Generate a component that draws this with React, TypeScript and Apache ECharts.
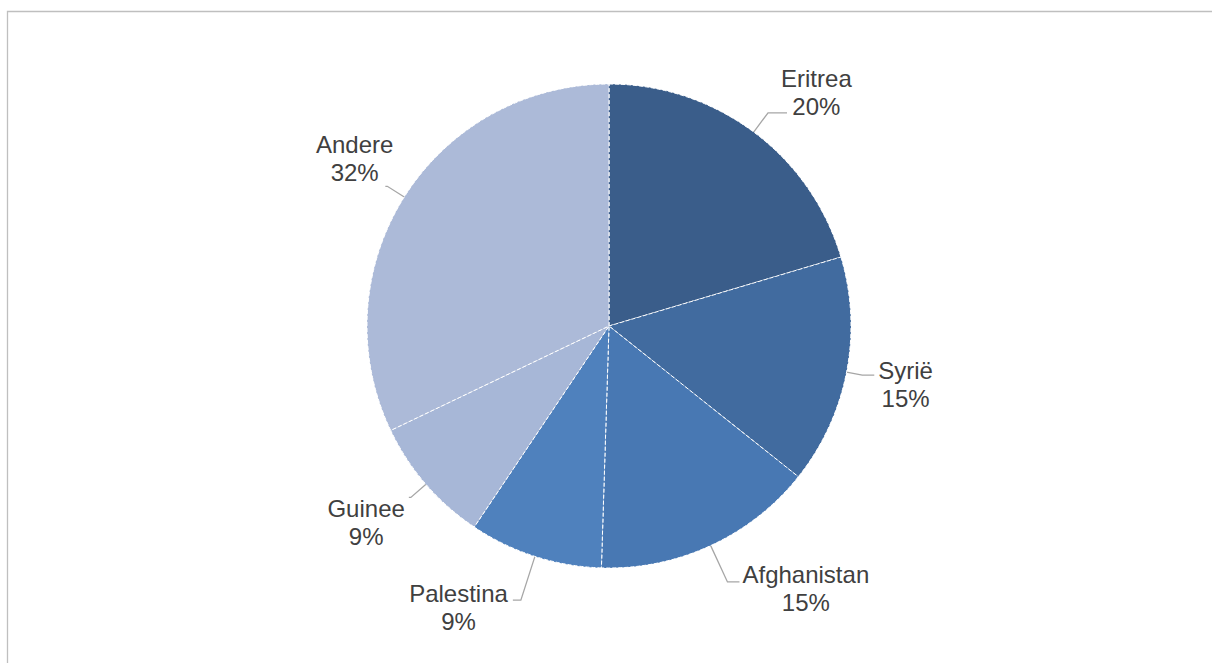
import React, { useEffect, useRef } from "react";
import * as echarts from "echarts";

// Data
const categories = ["Eritrea", "Syrië", "Afghanistan", "Palestina", "Guinee", "Andere"];
const values = [20.4, 15.3, 14.8, 8.9, 8.5, 32.1];

// Styles (kept separate from data)
const colors = ["#3a5d8a", "#416b9f", "#4878b3", "#4f81bd", "#a7b7d7", "#acbad8"];
const lineLen1 = [24, 16, 40, 46, 20, 20];
const lineLen2 = [19, 12, 12, 8, 2, 2];
const labelPad = [
  [0, 0, 40, 0],
  [18, 0, 0, 0],
  [14, 0, 0, 0],
  [14, 0, 0, 0],
  [50, 0, 0, 0],
  [0, 0, 56, 0],
];
const labelDist = [-6, 4, 3, 5, 4, -8];

export default function App() {
  const ref = useRef<HTMLDivElement>(null);

  useEffect(() => {
    if (!ref.current) return;
    const chart = echarts.init(ref.current, undefined, { renderer: "svg" });

    const data = categories.map((name, i) => ({
      name,
      value: values[i],
      itemStyle: { color: colors[i] },
      label: { padding: labelPad[i], distanceToLabelLine: labelDist[i] },
      labelLine: { length: lineLen1[i], length2: lineLen2[i] },
    }));

    chart.setOption({
      animation: false,
      backgroundColor: "#ffffff",
      graphic: [
        {
          type: "rect",
          shape: { x: 7.5, y: 11.5, width: 1220, height: 670 },
          style: { fill: "none", stroke: "#bfbfbf", lineWidth: 1.3 },
          silent: true,
        },
      ],
      series: [
        {
          type: "pie",
          center: [609, 326],
          radius: 242,
          startAngle: 90,
          clockwise: true,
          avoidLabelOverlap: false,
          data,
          itemStyle: {
            borderColor: "#ffffff",
            borderWidth: 1,
            borderType: "dashed",
          },
          label: {
            show: true,
            position: "outside",
            color: "#404040",
            fontFamily: "Liberation Sans, Arial, sans-serif",
            fontSize: 24,
            lineHeight: 28,
            formatter: (p: any) => `{n|${p.name}}\n{n|${Math.round(p.percent)}%}`,
            rich: {
              n: {
                align: "center",
                color: "#404040",
                fontFamily: "Liberation Sans, Arial, sans-serif",
                fontSize: 24,
                lineHeight: 28,
              },
            },
          },
          labelLine: {
            show: true,
            smooth: false,
            lineStyle: { color: "#a6a6a6", width: 1.3 },
          },
          emphasis: { disabled: true },
        },
      ],
    });

    return () => chart.dispose();
  }, []);

  return (
    <div
      ref={ref}
      style={{ position: "fixed", left: 0, top: 0, width: 1212, height: 663, background: "#fff" }}
    />
  );
}
